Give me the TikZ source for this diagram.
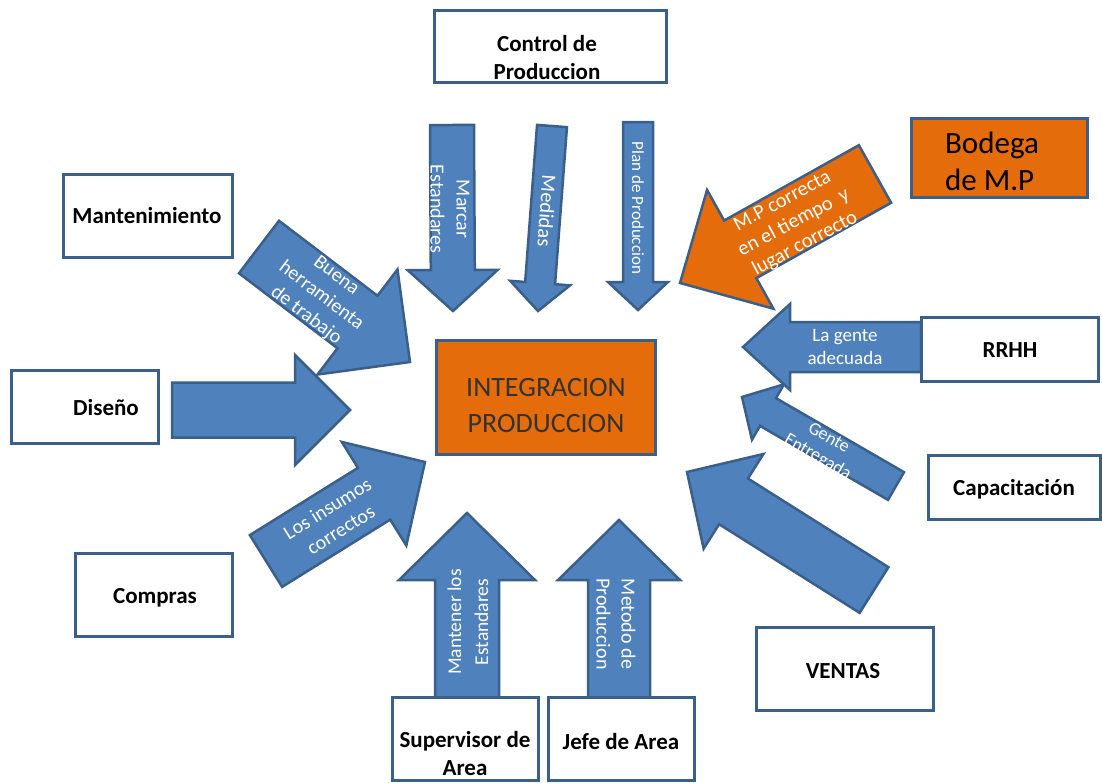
\documentclass[tikz,border=0pt]{standalone}
\usepackage{fontspec}
\setmainfont{Carlito}
\usetikzlibrary{calc}

\definecolor{arrowfill}{HTML}{4F81BD}
\definecolor{edgeblue}{HTML}{3A5F8B}
\definecolor{orangefill}{HTML}{E46C0A}

\tikzset{
  panel/.style={draw=edgeblue, line width=3pt, fill=white, inner sep=0pt},
  panellabel/.style={font=\fontsize{23}{28}\selectfont\bfseries, align=center, text=black, inner sep=0pt},
  blockshape/.style={draw=edgeblue, fill=arrowfill, line width=2.5pt, line join=miter},
  arrowtext/.style={text=white, align=center, inner sep=0pt},
}

% \blockarrow[options]{tail}{tip}{shaft half width}{head half width}{head length}{name}
\newcommand\blockarrow[7][]{%
  \coordinate (#7-tail) at (#2);
  \coordinate (#7-tip) at (#3);
  \coordinate (#7-base) at ($(#7-tip)!#6!(#7-tail)$);
  \draw[blockshape,#1]
    ($(#7-tail)!#4!90:(#7-tip)$) --
    ($(#7-base)!#4!90:(#7-tip)$) --
    ($(#7-base)!#5!90:(#7-tip)$) --
    (#7-tip) --
    ($(#7-base)!#5!-90:(#7-tip)$) --
    ($(#7-base)!#4!-90:(#7-tip)$) --
    ($(#7-tail)!#4!-90:(#7-tip)$) -- cycle;
}

\begin{document}
\begin{tikzpicture}[x=1pt, y=-1pt]
\useasboundingbox (0,0) rectangle (1102,782);

% block arrows pointing at the centre
\blockarrow{452,125}{453,311}{22pt}{45pt}{41pt}{marcar}
\blockarrow{552,126}{538,311}{15pt}{30pt}{28pt}{medidas}
\blockarrow{638,122}{638,310}{15pt}{30pt}{28pt}{plan}
\blockarrow{259,247}{410,362}{33pt}{66pt}{66pt}{buena}
\blockarrow{172,410}{350,410}{27.5pt}{55pt}{55pt}{diseno}
\blockarrow{266,561}{425,462}{30.5pt}{61pt}{60pt}{insumos}
\blockarrow{467,698}{467,513}{32pt}{68pt}{67pt}{mantener}
\blockarrow{619,698}{619,520}{31pt}{61pt}{60pt}{metodo}
\blockarrow{874,590}{687,472}{27pt}{56pt}{55pt}{ventas}
\blockarrow{896,486}{742,397}{16pt}{32pt}{30pt}{entregada}
\blockarrow{921,347}{743,347}{25pt}{43pt}{47pt}{gente}
\blockarrow[fill=orangefill]{875,174}{680,283}{33pt}{68pt}{69pt}{mp}

% texts on the arrows
\node[arrowtext, rotate=-90, font=\fontsize{20}{26}\selectfont] (tmarcar) at (450,209) {Marcar\\Estandares};
\node[arrowtext, rotate=-94, font=\fontsize{20.5}{24}\selectfont] (tmedidas) at (547,211) {Medidas};
\node[arrowtext, rotate=-90, font=\fontsize{17}{19}\selectfont] (tplan) at (638,208) {Plan de Produccion};
\node[arrowtext, rotate=-37, font=\fontsize{20}{25}\selectfont] (tbuena) at (321,296) {Buena\\herramienta\\de trabajo};
\node[arrowtext, rotate=32, font=\fontsize{20}{25}\selectfont] (tinsumos) at (334,519) {Los insumos\\correctos};
\node[arrowtext, rotate=90, font=\fontsize{19.5}{27}\selectfont] (tmantener) at (468,622) {Mantener los\\Estandares};
\node[arrowtext, rotate=-90, font=\fontsize{20}{25}\selectfont] (tmetodo) at (616,624) {Metodo de\\Produccion};
\node[arrowtext, font=\fontsize{19}{23}\selectfont] (tgente) at (845,347) {La gente\\adecuada};
\node[arrowtext, rotate=-30, font=\fontsize{18}{22}\selectfont] (tentregada) at (823,448) {Gente\\Entregada};
\node[arrowtext, rotate=28, font=\fontsize{20.5}{24}\selectfont] (tmp) at (794,223) {M.P correcta\\en el tiempo~~y\\lugar correcto};

% departments
\node[panel, minimum width=232pt, minimum height=72pt] (ctrl) at (550,46) {};
\node[panel, minimum width=169pt, minimum height=83pt] (mant) at (147.5,215.5) {};
\node[panel, minimum width=147pt, minimum height=73pt] (diseno) at (84.5,406.5) {};
\node[panel, minimum width=157pt, minimum height=83pt] (compras) at (153.5,594.5) {};
\node[panel, minimum width=177pt, minimum height=64pt] (rrhh) at (1009.5,349) {};
\node[panel, minimum width=172pt, minimum height=64pt] (capac) at (1014,487) {};
\node[panel, minimum width=177pt, minimum height=83pt] (ventas) at (844.5,668.5) {};
\node[panel, minimum width=146pt, minimum height=83pt] (superv) at (465,738.5) {};
\node[panel, minimum width=146pt, minimum height=83pt] (jefe) at (621,738.5) {};
\node[panel, fill=orangefill, minimum width=176pt, minimum height=79pt] (bodega) at (999,157.5) {};
\node[panel, fill=orangefill, minimum width=219pt, minimum height=114pt] (integ) at (545.5,397) {};

\node[panellabel] (lctrl) at (547,58) {Control de\\Produccion};
\node[panellabel] (lmant) at (147,216) {Mantenimiento};
\node[panellabel] (ldiseno) at (106,408) {Diseño};
\node[panellabel] (lcompras) at (155,598) {Compras};
\node[panellabel] (lrrhh) at (1010,350) {RRHH};
\node[panellabel] (lcapac) at (1014,489) {Capacitación};
\node[panellabel] (lventas) at (843,671) {VENTAS};
\node[panellabel] (lsuperv) at (465,754) {Supervisor de\\Area};
\node[panellabel] (ljefe) at (621,742) {Jefe de Area};
\node[inner sep=0pt, align=left, text=black, font=\fontsize{31}{37}\selectfont] (lbodega) at (992,161) {Bodega\\de M.P};
\node[inner sep=0pt, align=center, text=black!80, font=\fontsize{28}{36}\selectfont] (linteg) at (546,406) {INTEGRACION\\PRODUCCION};
\end{tikzpicture}
\end{document}
